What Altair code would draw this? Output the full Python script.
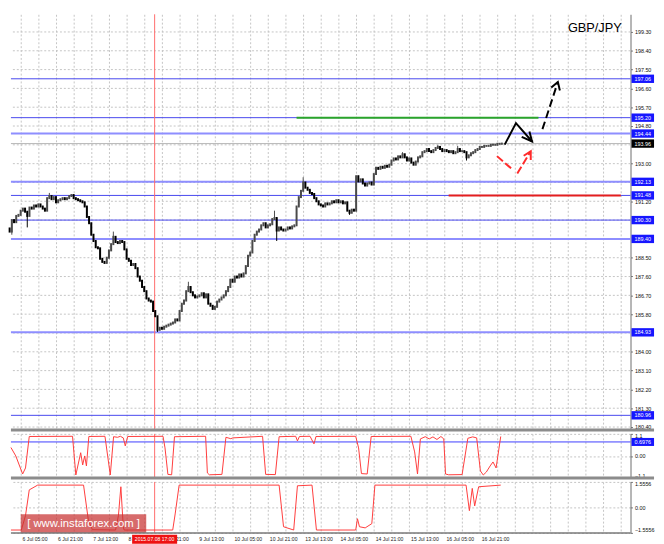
import altair as alt
import pandas as pd

# ---------------- data ----------------
symbol = "GBP/JPY"
open_first = 189.90
closes = [
    189.75, 190.30, 190.20, 190.50, 190.55, 190.75, 190.85, 190.70, 190.50, 190.90,
    190.85, 191.00, 190.95, 191.05, 190.95, 190.85, 190.75, 191.35, 191.45, 191.30,
    191.40, 191.15, 191.25, 191.30, 191.35, 191.30, 191.35, 191.45, 191.50, 191.35,
    191.30, 191.25, 191.20, 191.15, 190.95, 190.45, 190.15, 189.60, 189.30, 189.00,
    188.95, 188.45, 188.30, 188.25, 188.50, 188.85, 189.15, 189.50, 189.25, 189.20,
    189.30, 189.25, 188.90, 188.45, 188.35, 188.15, 188.20, 188.00, 187.60, 187.40,
    187.10, 186.90, 186.55, 186.45, 186.40, 185.95, 185.70, 185.05, 185.15, 185.10,
    185.20, 185.25, 185.30, 185.35, 185.40, 185.55, 185.50, 185.95, 186.30, 186.45,
    186.90, 187.10, 186.85, 186.70, 186.60, 186.65, 186.70, 186.80, 186.60, 186.75,
    186.30, 186.20, 186.05, 186.15, 186.40, 186.50, 186.60, 186.70, 186.90, 187.10,
    187.45, 187.35, 187.60, 187.55, 187.70, 187.60, 187.75, 188.10, 188.60, 188.75,
    189.30, 189.60, 189.75, 189.85, 190.05, 190.15, 189.95, 190.05, 190.10, 190.35,
    190.40, 189.80, 189.95, 189.85, 189.80, 189.85, 189.95, 189.90, 190.00, 190.05,
    190.95, 191.40, 191.70, 192.10, 191.85, 191.75, 191.60, 191.55, 191.35, 191.20,
    191.05, 191.00, 190.95, 191.10, 191.05, 191.10, 191.20, 191.15, 191.25, 191.15,
    191.20, 191.10, 191.15, 190.75, 190.65, 190.80, 190.75, 192.40, 192.15, 192.25,
    192.05, 191.95, 192.05, 192.10, 192.00, 192.50, 192.80, 192.75, 192.85, 192.80,
    192.90, 192.85, 192.95, 193.15, 193.25, 193.20, 193.35, 193.30, 193.45, 193.30,
    193.15, 193.25, 193.05, 192.95, 193.10, 193.30, 193.35, 193.55, 193.60, 193.70,
    193.60, 193.55, 193.65, 193.75, 193.80, 193.70, 193.60, 193.65, 193.60, 193.55,
    193.60, 193.50, 193.55, 193.70, 193.60, 193.60, 193.55, 193.30, 193.40, 193.50,
    193.55, 193.65, 193.70, 193.80, 193.80, 193.85, 193.85, 193.85, 193.90, 193.90,
    193.90, 193.95, 193.95, 193.96,
]
wick_hi_bar = [18, 47, 81, 120, 133, 178, 194, 203]
wick_hi_val = [191.60, 189.75, 187.35, 190.75, 192.35, 193.55, 193.90, 193.85]
wick_lo_bar = [1, 8, 67, 121, 154, 207]
wick_lo_val = [189.60, 189.95, 184.95, 189.30, 190.55, 193.15]

price_grid = [180.40, 181.30, 182.20, 183.10, 184.00, 184.90, 185.80, 186.70, 187.60,
              188.50, 189.40, 190.30, 191.20, 192.10, 193.00, 193.90, 194.80, 195.70,
              196.60, 197.50, 198.40, 199.30]
price_labels = [180.40, 181.30, 182.20, 183.10, 184.00, 185.80, 186.70, 187.60,
                188.50, 191.20, 193.00, 194.80, 195.70, 196.60, 197.50, 198.40, 199.30]
levels_thin = [197.06, 195.20, 191.48, 190.30, 180.96]
levels_wide = [194.44, 192.13, 189.40, 184.93]
current_price = 193.96

green_from, green_to, green_level = 130.0, 239.6, 195.20
red_from, red_to, red_level = 198.9, 276.9, 191.48

red_bar = 65.7
red_text = "2015.07.08 17:00"

date_bars = [5, 21, 37, 53, 69, 85, 101, 117, 133, 149, 165, 181, 197, 213]
date_texts = ["6 Jul 05:00", "6 Jul 21:00", "7 Jul 13:00", "8 Jul 05:00", "8 Jul 21:00",
              "9 Jul 13:00", "10 Jul 05:00", "10 Jul 21:00", "13 Jul 13:00", "14 Jul 05:00",
              "14 Jul 21:00", "15 Jul 13:00", "16 Jul 05:00", "16 Jul 21:00"]

# forecast arrows (bar position, price)
black_solid_bar = [224.3, 229.4, 236.7]
black_solid_p = [193.91, 194.94, 194.06]
black_head1_bar = [235.5, 236.7, 232.0]
black_head1_p = [194.54, 194.06, 194.28]
black_dash_bar = [241.4, 248.4]
black_dash_p = [194.65, 196.91]
black_head2_bar = [245.4, 248.4, 249.3]
black_head2_p = [196.64, 196.91, 196.50]
red_dash1_bar = [220.8, 227.4]
red_dash1_p = [193.36, 192.76]
red_dash2_bar = [230.0, 236.1]
red_dash2_p = [192.53, 193.59]
red_head_bar = [232.9, 236.1, 236.1]
red_head_p = [193.38, 193.59, 193.17]

ind1_bar = [0.6, 2.8, 5.9, 7.2, 8.9, 28.5, 30.0, 32.2, 33.1, 34.0, 34.8, 35.9, 43.2, 45.6,
            47.1, 48.9, 50.2, 51.5, 52.4, 53.5, 69.5, 70.4, 71.7, 73.4, 74.7, 88.8, 89.6,
            90.5, 96.2, 98.0, 100.2, 101.1, 114.6, 116.0, 120.4, 122.1, 129.6, 130.4,
            131.3, 136.1, 137.9, 138.8, 156.8, 158.1, 159.4, 162.0, 163.8, 181.8, 183.5,
            184.8, 186.1, 188.3, 190.1, 191.8, 193.6, 195.4, 196.7, 197.5, 198.9, 205.0,
            207.6, 209.8, 211.6, 213.3, 214.6, 216.0, 217.7, 219.0, 220.4, 222.5]
ind1_val = [0.42, 0.0, -0.9, -0.6, 0.97, 0.98, -0.95, 0.16, -0.45, 0.0, -0.5, 0.97, 0.98,
            -0.95, 0.96, 0.93, 0.98, 0.9, 0.5, 0.97, 0.98, 0.4, -0.92, -0.94, 0.96, 0.98,
            -0.85, -0.94, -0.92, 0.93, 0.86, 0.9, 0.98, -0.92, -0.93, 0.96, 0.98, 0.75,
            0.97, 0.98, 0.6, 0.97, 0.98, 0.4, -0.88, -0.9, 0.97, 0.98, 0.2, -0.9, 0.85,
            0.96, 0.85, 0.95, 0.82, 0.97, 0.85, -0.9, -0.94, -0.93, 0.88, 0.95, 0.9,
            -0.75, -0.95, -0.8, -0.5, -0.3, -0.6, 0.97]
ind1_level = 0.6976
ind1_ticks = [1.1, 0.0, -1.1]

ind2_bar = [0.6, 5.3, 7.2, 8.9, 12.7, 33.5, 35.7, 37.5, 48.0, 49.3, 50.4, 51.5, 51.9, 73.9,
            75.0, 76.8, 122.1, 124.1, 128.7, 130.4, 137.0, 139.0, 156.8, 157.6, 158.5,
            161.1, 164.1, 165.5, 206.8, 208.3, 209.6, 210.7, 212.5, 222.5]
ind2_val = [-1.38, -1.38, -0.5, 1.07, 1.36, 1.36, -0.8, -1.36, -1.38, -0.5, 1.26, -1.2,
            -1.38, -1.38, -0.4, 1.36, 1.36, -1.18, -1.38, 1.32, 1.36, -1.38, -1.38, -0.69,
            -1.18, -1.25, -0.99, 1.36, 1.36, -0.2, 1.16, 0.09, 1.26, 1.36]
ind2_ticks = [1.5556, 0.0, -1.5556]

watermark = "[ www.instaforex.com ]"

# ---------------- layout / style ----------------
W = 632
LBL = 24
H_MAIN = 424
H_I1 = 45
H_I2 = 52
FONT = "Liberation Sans"
GRID = "#c4c4c4"
BLUE_BOX = "#1616ff"

opens = [open_first] + closes[:-1]
cand = pd.DataFrame({"i": list(range(len(closes))), "o": opens, "c": closes})
cand["hi"] = cand[["o", "c"]].max(axis=1)
cand["lo"] = cand[["o", "c"]].min(axis=1)
for b, v in zip(wick_hi_bar, wick_hi_val):
    cand.loc[b, "hi"] = v
for b, v in zip(wick_lo_bar, wick_lo_val):
    cand.loc[b, "lo"] = v
cand["dir"] = ["up" if c >= o else "down" for o, c in zip(cand["o"], cand["c"])]

x_scale = alt.Scale(domain=[0.6, 281.3], nice=False, zero=False)
x_axis = alt.Axis(values=list(range(5, 281, 8)), labels=False, ticks=False, domain=False,
                  grid=True, gridDash=[2, 2], gridColor=GRID, title=None)


def X(f):
    return alt.X(f"{f}:Q", scale=x_scale, axis=x_axis)


def make_y(domain, values, label_expr, grid=True):
    scale = alt.Scale(domain=domain, nice=False, zero=False)
    axis = alt.Axis(orient="right", values=values, labelExpr=label_expr, labelFontSize=5.5,
                    labelFont=FONT, labelColor="#111", tickSize=2, tickColor="#777",
                    domainColor="#6a6a6a", labelPadding=2, labelFlush=True,
                    grid=grid, gridDash=[2, 2], gridColor=GRID, title=None)

    def Y(f):
        return alt.Y(f"{f}:Q", scale=scale, axis=axis)
    return Y


Ym = make_y([180.26, 200.145], price_labels, "format(datum.value, '.2f')", grid=False)
Y1 = make_y([-1.1, 1.1], ind1_ticks,
            "datum.value == 0 ? '0.00' : format(datum.value, '.1f')")
Y2 = make_y([-1.5556, 1.5556], ind2_ticks,
            "datum.value == 0 ? '0.00' : format(datum.value, '.4f')")

one = pd.DataFrame({"k": [0]})


def sep(h, width=3, color="#8c8c8c", right=W + LBL):
    return alt.Chart(one).mark_rule(color=color, strokeWidth=width).encode(
        x=alt.value(0), x2=alt.value(right), y=alt.value(h))


def red_vline():
    return alt.Chart(pd.DataFrame({"i": [red_bar]})).mark_rule(
        color="#ff6a6a", strokeWidth=1).encode(x=X("i"))


def path_df(bars, ps):
    return pd.DataFrame({"i": bars, "p": ps, "o": list(range(len(bars)))})


def path(bars, ps, color, dash=None):
    kw = dict(color=color, strokeWidth=2)
    if dash:
        kw["strokeDash"] = dash
    return alt.Chart(path_df(bars, ps)).mark_line(**kw).encode(
        x=X("i"), y=Ym("p"), order="o:Q")


# ---------------- main panel ----------------
dir_color = alt.Color("dir:N", scale=alt.Scale(domain=["up", "down"],
                                               range=["#4a4a4a", "#000000"]), legend=None)

pgrid = alt.Chart(pd.DataFrame({"level": price_grid})).mark_rule(
    color=GRID, strokeWidth=1, strokeDash=[2, 2]).encode(y=Ym("level"))
thin = alt.Chart(pd.DataFrame({"level": levels_thin})).mark_rule(
    color="#4646ee", strokeWidth=1).encode(y=Ym("level"))
wide = alt.Chart(pd.DataFrame({"level": levels_wide})).mark_rule(
    color="#8e8eff", strokeWidth=2).encode(y=Ym("level"))
cur = alt.Chart(pd.DataFrame({"level": [current_price]})).mark_rule(
    color="#b4b4b4", strokeWidth=1).encode(y=Ym("level"))
green = alt.Chart(pd.DataFrame({"a": [green_from], "b": [green_to], "level": [green_level]})
                  ).mark_rule(color="#2aa52a", strokeWidth=2).encode(
    x=X("a"), x2="b", y=Ym("level"))
redseg = alt.Chart(pd.DataFrame({"a": [red_from], "b": [red_to], "level": [red_level]})
                   ).mark_rule(color="#e41e1e", strokeWidth=2).encode(
    x=X("a"), x2="b", y=Ym("level"))

wick = alt.Chart(cand).mark_rule(strokeWidth=1).encode(
    x=X("i"), y=Ym("lo"), y2="hi", color=dir_color)
body = alt.Chart(cand).mark_rule(strokeWidth=2, strokeCap="square").encode(
    x=X("i"), y=Ym("o"), y2="c", color=dir_color)

box_levels = pd.DataFrame({"level": levels_thin + levels_wide})
box_levels["lo"] = box_levels["level"] - 0.2
box_levels["hi"] = box_levels["level"] + 0.2
boxes = alt.Chart(box_levels).mark_rect(color=BLUE_BOX).encode(
    x=alt.value(W + 1), x2=alt.value(W + LBL), y=Ym("lo"), y2="hi")
box_txt = alt.Chart(box_levels).mark_text(color="white", fontSize=5.5, font=FONT).encode(
    x=alt.value(W + 12.5), y=Ym("level"), text=alt.Text("level:Q", format=".2f"))
cur_df = pd.DataFrame({"level": [current_price], "lo": [current_price - 0.2],
                       "hi": [current_price + 0.2]})
cur_box = alt.Chart(cur_df).mark_rect(color="#000").encode(
    x=alt.value(W + 1), x2=alt.value(W + LBL), y=Ym("lo"), y2="hi")
cur_txt = alt.Chart(cur_df).mark_text(color="white", fontSize=5.5, font=FONT).encode(
    x=alt.value(W + 12.5), y=Ym("level"), text=alt.Text("level:Q", format=".2f"))

sym = alt.Chart(pd.DataFrame({"t": [symbol]})).mark_text(
    align="right", baseline="middle", fontSize=13, font=FONT, color="#000").encode(
    x=alt.value(W - 9), y=alt.value(14), text="t:N")

main = alt.layer(
    pgrid, thin, wide, cur, green, redseg, red_vline(), wick, body,
    path(black_solid_bar, black_solid_p, "#000"),
    path(black_head1_bar, black_head1_p, "#000"),
    path(black_dash_bar, black_dash_p, "#000", [8, 4]),
    path(black_head2_bar, black_head2_p, "#000"),
    path(red_dash1_bar, red_dash1_p, "#ff2b2b", [8, 3]),
    path(red_dash2_bar, red_dash2_p, "#ff2b2b", [8, 3]),
    path(red_head_bar, red_head_p, "#ff2b2b"),
    boxes, box_txt, cur_box, cur_txt, sym, sep(H_MAIN),
).properties(width=W, height=H_MAIN)

# ---------------- indicator 1 ----------------
ind1_df = pd.DataFrame({"i": ind1_bar, "v": ind1_val})
l1 = alt.Chart(ind1_df).mark_line(color="#ff3a3a", strokeWidth=1).encode(x=X("i"), y=Y1("v"))
lvl1 = alt.Chart(pd.DataFrame({"v": [ind1_level]})).mark_rule(
    color="#3a3aff", strokeWidth=1).encode(y=Y1("v"))
b1df = pd.DataFrame({"v": [ind1_level], "lo": [ind1_level - 0.2], "hi": [ind1_level + 0.2]})
b1 = alt.Chart(b1df).mark_rect(color=BLUE_BOX).encode(
    x=alt.value(W + 1), x2=alt.value(W + LBL), y=Y1("lo"), y2="hi")
b1t = alt.Chart(b1df).mark_text(color="white", fontSize=5.5, font=FONT).encode(
    x=alt.value(W + 12.5), y=Y1("v"), text=alt.Text("v:Q", format=".4f"))
ind1 = alt.layer(lvl1, red_vline(), l1, b1, b1t, sep(H_I1)).properties(width=W, height=H_I1)

# ---------------- indicator 2 ----------------
ind2_df = pd.DataFrame({"i": ind2_bar, "v": ind2_val})
l2 = alt.Chart(ind2_df).mark_line(color="#ff3a3a", strokeWidth=1).encode(x=X("i"), y=Y2("v"))
wm_box = alt.Chart(one).mark_rect(color="#c83232", opacity=0.72).encode(
    x=alt.value(10), x2=alt.value(138), y=alt.value(33), y2=alt.value(52))
wm_txt = alt.Chart(pd.DataFrame({"t": [watermark]})).mark_text(
    color="white", fontSize=11.5, font=FONT, align="center", baseline="middle").encode(
    x=alt.value(74), y=alt.value(42.5), text="t:N")
dates = alt.Chart(pd.DataFrame({"i": date_bars, "t": date_texts})).mark_text(
    align="left", baseline="middle", fontSize=5.2, font=FONT, color="#222", dx=2).encode(
    x=X("i"), y=alt.value(H_I2 + 6), text="t:N")
rdf = pd.DataFrame({"i": [red_bar], "a": [red_bar - 10.2], "b": [red_bar + 10.2],
                    "t": [red_text]})
rbox = alt.Chart(rdf).mark_rect(color="#ee1111").encode(
    x=X("a"), x2="b", y=alt.value(H_I2 + 2), y2=alt.value(H_I2 + 11))
rtxt = alt.Chart(rdf).mark_text(color="white", fontSize=5.2, font=FONT,
                                baseline="middle").encode(
    x=X("i"), y=alt.value(H_I2 + 6.5), text="t:N")
ind2 = alt.layer(red_vline(), l2, wm_box, wm_txt, dates, rbox, rtxt,
                 sep(H_I2, width=1.5, color="#7a7a7a", right=W)
                 ).properties(width=W, height=H_I2)

chart = alt.vconcat(main, ind1, ind2, spacing=1).resolve_scale(
    x="shared", y="independent", color="independent").configure_view(
    strokeWidth=0).properties(padding=0, background="white")

chart.save("out.html", embed_options={"renderer": "svg", "actions": False})
